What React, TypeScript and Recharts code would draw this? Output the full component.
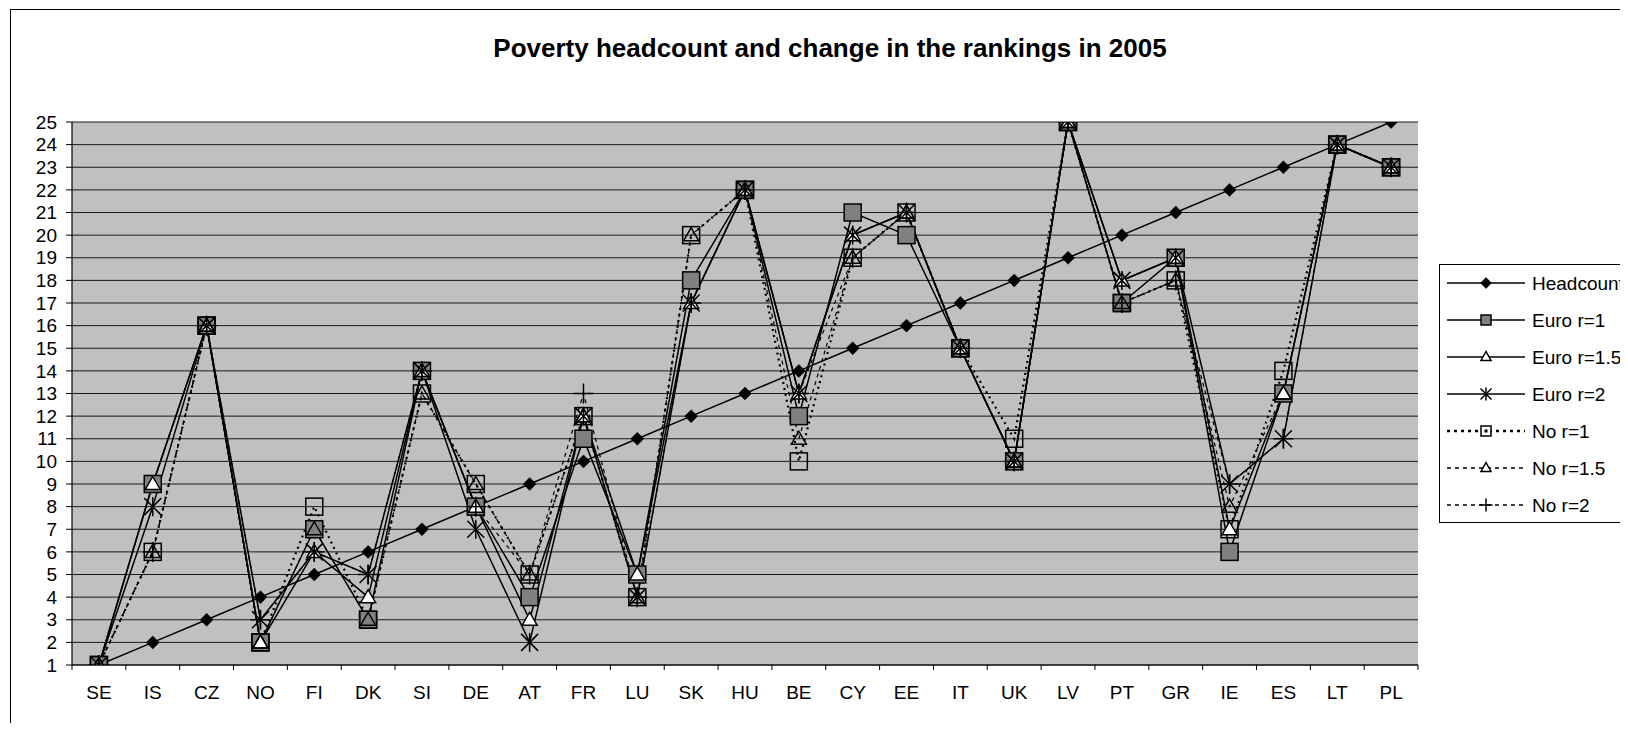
import React from 'react';
import { LineChart, Line, XAxis, YAxis, CartesianGrid } from 'recharts';

const categories = ['SE', 'IS', 'CZ', 'NO', 'FI', 'DK', 'SI', 'DE', 'AT', 'FR', 'LU', 'SK', 'HU', 'BE', 'CY', 'EE', 'IT', 'UK', 'LV', 'PT', 'GR', 'IE', 'ES', 'LT', 'PL'];
const headcount = [1, 2, 3, 4, 5, 6, 7, 8, 9, 10, 11, 12, 13, 14, 15, 16, 17, 18, 19, 20, 21, 22, 23, 24, 25];
const euroR1 = [1, 9, 16, 2, 7, 3, 14, 8, 4, 11, 5, 18, 22, 12, 21, 20, 15, 10, 25, 17, 19, 6, 13, 24, 23];
const euroR15 = [1, 9, 16, 2, 6, 4, 14, 8, 3, 12, 5, 17, 22, 13, 20, 21, 15, 10, 25, 18, 19, 7, 13, 24, 23];
const euroR2 = [1, 8, 16, 3, 6, 5, 14, 7, 2, 12, 4, 17, 22, 13, 20, 21, 15, 10, 25, 18, 19, 9, 11, 24, 23];
const noR1 = [1, 6, 16, 2, 8, 3, 13, 9, 5, 12, 4, 20, 22, 10, 19, 21, 15, 11, 25, 17, 18, 7, 14, 24, 23];
const noR15 = [1, 6, 16, 2, 7, 3, 13, 9, 5, 12, 4, 20, 22, 11, 19, 21, 15, 10, 25, 17, 18, 8, 13, 24, 23];
const noR2 = [1, 6, 16, 3, 6, 5, 14, 8, 5, 13, 4, 17, 22, 13, 19, 21, 15, 10, 25, 17, 18, 9, 11, 24, 23];
const yTicks = [1, 2, 3, 4, 5, 6, 7, 8, 9, 10, 11, 12, 13, 14, 15, 16, 17, 18, 19, 20, 21, 22, 23, 24, 25];
const title = 'Poverty headcount and change in the rankings in 2005';
const legendLabels = ['Headcount', 'Euro r=1', 'Euro r=1.5', 'Euro r=2', 'No r=1', 'No r=1.5', 'No r=2'];

const data = categories.map((c, i) => ({
  country: c,
  headcount: headcount[i],
  euroR1: euroR1[i],
  euroR15: euroR15[i],
  euroR2: euroR2[i],
  noR1: noR1[i],
  noR15: noR15[i],
  noR2: noR2[i],
}));

const FONT = '"Liberation Sans", Arial, sans-serif';
const W = 1620;
const H = 715;
const PLOT_LEFT = 64;
const PLOT_RIGHT = 1410;
const PLOT_TOP = 114;
const PLOT_BOTTOM = 657;
const X_AXIS_H = 30;
const HALF_BAND = (PLOT_RIGHT - PLOT_LEFT) / categories.length / 2;
const X_TICK_SIZE = 6;
const X_TICK_MARGIN = 14.5;

const Diamond = ({ cx, cy, r = 6.5 }: any) => (
  <polygon points={`${cx},${cy - r} ${cx + r},${cy} ${cx},${cy + r} ${cx - r},${cy}`} fill="#000" stroke="#000" strokeWidth={0.5} />
);
const Square = ({ cx, cy, s = 8.5, fill, inner = false }: any) => (
  <g>
    <rect x={cx - s} y={cy - s} width={2 * s} height={2 * s} fill={fill} stroke="#000" strokeWidth={1.5} />
    {inner ? <rect x={cx - 1.5} y={cy - 1.5} width={3} height={3} fill="#000" /> : null}
  </g>
);
const Tri = ({ cx, cy, w = 7.5, h = 13, fill }: any) => (
  <polygon
    points={`${cx},${cy - h / 2 - 1} ${cx + w},${cy + h / 2 - 1} ${cx - w},${cy + h / 2 - 1}`}
    fill={fill}
    stroke="#000"
    strokeWidth={1.5}
  />
);
const Star = ({ cx, cy, r = 8.5 }: any) => (
  <g stroke="#000" strokeWidth={1.5}>
    <line x1={cx - r} y1={cy - r} x2={cx + r} y2={cy + r} />
    <line x1={cx - r} y1={cy + r} x2={cx + r} y2={cy - r} />
    <line x1={cx} y1={cy - r - 1} x2={cx} y2={cy + r + 1} />
  </g>
);
const Plus = ({ cx, cy, r = 10 }: any) => (
  <g stroke="#000" strokeWidth={1.5}>
    <line x1={cx - r} y1={cy} x2={cx + r} y2={cy} />
    <line x1={cx} y1={cy - r} x2={cx} y2={cy + r} />
  </g>
);

const dotHead = (p: any) => <Diamond key={`h${p.index}`} cx={p.cx} cy={p.cy} />;
const dotE1 = (p: any) => <Square key={`e1${p.index}`} cx={p.cx} cy={p.cy} fill="#808080" />;
const dotE15 = (p: any) => <Tri key={`e15${p.index}`} cx={p.cx} cy={p.cy} fill="#fff" />;
const dotE2 = (p: any) => <Star key={`e2${p.index}`} cx={p.cx} cy={p.cy} />;
const dotN1 = (p: any) => <Square key={`n1${p.index}`} cx={p.cx} cy={p.cy} fill="none" />;
const dotN15 = (p: any) => <Tri key={`n15${p.index}`} cx={p.cx} cy={p.cy} fill="none" />;
const dotN2 = (p: any) => <Plus key={`n2${p.index}`} cx={p.cx} cy={p.cy} />;

const XTick = (props: any) => {
  const { x, y, payload, index } = props;
  const axisY = y - X_TICK_SIZE - X_TICK_MARGIN;
  return (
    <g>
      <line x1={x - HALF_BAND} x2={x - HALF_BAND} y1={axisY} y2={axisY + 5} stroke="#000" strokeWidth={1} />
      {index === categories.length - 1 ? (
        <line x1={x + HALF_BAND} x2={x + HALF_BAND} y1={axisY} y2={axisY + 5} stroke="#000" strokeWidth={1} />
      ) : null}
      <text x={x} y={y} dy="0.71em" textAnchor="middle" fontSize={19} fill="#000" fontFamily={FONT}>
        {payload.value}
      </text>
    </g>
  );
};

const legendStyles = [
  { dash: undefined, width: 1.5, mark: (cx: number, cy: number) => <Diamond cx={cx} cy={cy} r={5.5} /> },
  { dash: undefined, width: 1.5, mark: (cx: number, cy: number) => <Square cx={cx} cy={cy} s={5} fill="#808080" /> },
  { dash: undefined, width: 1.5, mark: (cx: number, cy: number) => <Tri cx={cx} cy={cy} w={5} h={9} fill="#fff" /> },
  { dash: undefined, width: 1.5, mark: (cx: number, cy: number) => <Star cx={cx} cy={cy} r={5.5} /> },
  { dash: '3 4', width: 2.5, mark: (cx: number, cy: number) => <Square cx={cx} cy={cy} s={5} fill="#fff" inner /> },
  { dash: '4 4', width: 1.3, mark: (cx: number, cy: number) => <Tri cx={cx} cy={cy} w={5} h={9} fill="#fff" /> },
  { dash: '4 4', width: 1.3, mark: (cx: number, cy: number) => <Plus cx={cx} cy={cy} r={6.5} /> },
];

const Legend = () => (
  <div
    style={{
      position: 'absolute',
      left: 1431,
      top: 256,
      width: 230,
      height: 259,
      border: '1px solid #000',
      background: '#fff',
      boxSizing: 'border-box',
    }}
  >
    <svg width={230} height={259} style={{ position: 'absolute', left: -1, top: -1 }}>
      {legendLabels.map((lab, i) => {
        const cy = 19 + i * 37;
        const st = legendStyles[i];
        return (
          <g key={lab}>
            <line x1={8} x2={86} y1={cy} y2={cy} stroke="#000" strokeWidth={st.width} strokeDasharray={st.dash} />
            {st.mark(47, cy)}
            <text x={93} y={cy} dy="0.355em" fontSize={19} fill="#000" fontFamily={FONT}>
              {lab}
            </text>
          </g>
        );
      })}
    </svg>
  </div>
);

export default function App() {
  return (
    <div style={{ position: 'relative', width: W, height: H, overflow: 'hidden', background: '#fff', fontFamily: FONT }}>
      <div
        style={{
          position: 'absolute',
          left: 2,
          top: 1,
          width: W + 20,
          height: H + 20,
          borderLeft: '1px solid #000',
          borderTop: '1px solid #000',
        }}
      />
      <div
        style={{
          position: 'absolute',
          left: 822 - 500,
          width: 1000,
          top: 25,
          textAlign: 'center',
          fontSize: 26,
          fontWeight: 'bold',
          lineHeight: 'normal',
          color: '#000',
          fontFamily: FONT,
        }}
      >
        {title}
      </div>
      <LineChart
        width={W}
        height={H}
        data={data}
        margin={{ top: PLOT_TOP, right: W - PLOT_RIGHT, bottom: H - PLOT_BOTTOM - X_AXIS_H, left: 0 }}
        style={{ position: 'absolute', left: 0, top: 0 }}
      >
        <CartesianGrid horizontal vertical={false} fill="#c0c0c0" fillOpacity={1} stroke="#1a1a1a" strokeWidth={1} />
        <XAxis
          dataKey="country"
          interval={0}
          padding={{ left: HALF_BAND, right: HALF_BAND }}
          tickLine={false}
          tickSize={X_TICK_SIZE}
          tickMargin={X_TICK_MARGIN}
          axisLine={{ stroke: '#000', strokeWidth: 1.2 }}
          tick={<XTick />}
          height={X_AXIS_H}
        />
        <YAxis
          type="number"
          domain={[1, 25]}
          ticks={yTicks}
          interval={0}
          allowDataOverflow
          width={PLOT_LEFT}
          tickSize={6}
          tickMargin={9}
          axisLine={{ stroke: '#000', strokeWidth: 1.2 }}
          tickLine={{ stroke: '#000' }}
          tick={{ fontSize: 19, fill: '#000', fontFamily: FONT }}
        />
        <YAxis
          yAxisId="right"
          orientation="right"
          type="number"
          domain={[1, 25]}
          width={0}
          tick={false}
          tickLine={false}
          axisLine={{ stroke: '#808080', strokeWidth: 1.5 }}
        />
        <Line type="linear" dataKey="headcount" stroke="#000" strokeWidth={1.5} dot={dotHead} activeDot={false} isAnimationActive={false} />
        <Line type="linear" dataKey="euroR1" stroke="#000" strokeWidth={1.5} dot={dotE1} activeDot={false} isAnimationActive={false} />
        <Line type="linear" dataKey="euroR15" stroke="#000" strokeWidth={1.5} dot={dotE15} activeDot={false} isAnimationActive={false} />
        <Line type="linear" dataKey="euroR2" stroke="#000" strokeWidth={1.5} dot={dotE2} activeDot={false} isAnimationActive={false} />
        <Line type="linear" dataKey="noR1" stroke="#000" strokeWidth={2.2} strokeDasharray="2 4" dot={dotN1} activeDot={false} isAnimationActive={false} />
        <Line type="linear" dataKey="noR15" stroke="#000" strokeWidth={1.2} strokeDasharray="4 4" dot={dotN15} activeDot={false} isAnimationActive={false} />
        <Line type="linear" dataKey="noR2" stroke="#000" strokeWidth={1.2} strokeDasharray="4 4" dot={dotN2} activeDot={false} isAnimationActive={false} />
      </LineChart>
      <Legend />
    </div>
  );
}
